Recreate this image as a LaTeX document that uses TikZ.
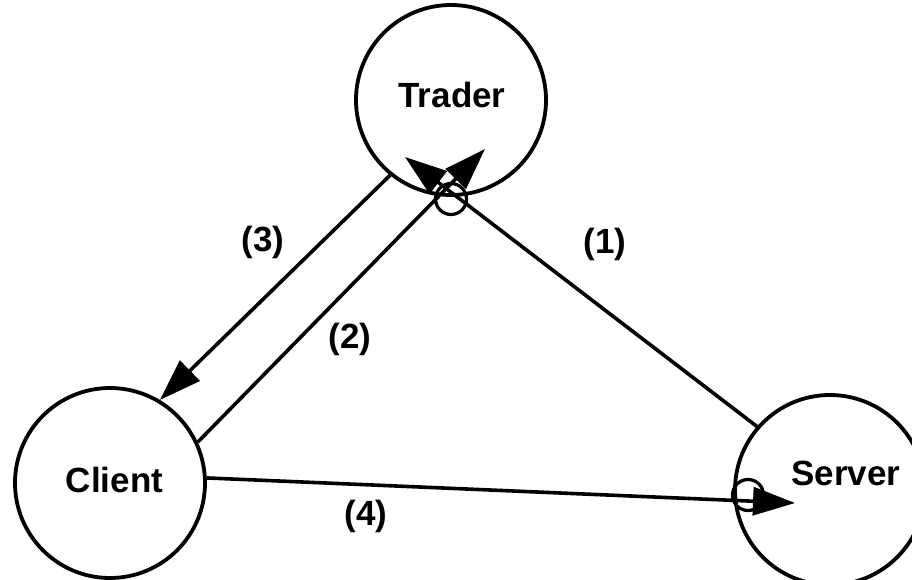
\documentclass[tikz,border=0pt]{standalone}
\usepackage{fontspec}
\setmainfont{Liberation Sans}
\usetikzlibrary{arrows.meta}
\begin{document}
\begin{tikzpicture}[x=1pt,y=-1pt,
  party/.style={circle,draw,line width=3.8pt,minimum size=190pt,inner sep=0pt},
  lbl/.style={anchor=base,font=\fontsize{35}{40}\selectfont\bfseries,inner sep=0pt},
  conn/.style={line width=3.6pt},
  tip/.style={-{Triangle[length=42pt,width=28pt]}},
  ring/.style={circle,draw,line width=3.2pt,minimum size=31pt,inner sep=0pt}]
\useasboundingbox (0,0) rectangle (912,580);
\node[party] (trader) at (451,100) {};
\node[party] (client) at (110,483) {};
\node[party] (server) at (830,490) {};
\node[lbl] (tradertext) at (452,108) {Trader};
\node[lbl] (clienttext) at (114.5,492) {Client};
\node[lbl] (servertext) at (846,485) {Server};
\coordinate (t1) at (405,157);
\coordinate (t2) at (485,149);
\coordinate (t4) at (795,503);
\draw[conn,tip] (server.139) -- (t1);
\draw[conn,tip] (client.25) -- (t2);
\draw[conn,tip] (trader.231) -- (client.59);
\draw[conn,tip] (client.3) -- (t4);
\node[ring] (ringtrader) at (451,199) {};
\node[ring] (ringserver) at (748,495) {};
\node[lbl] (l1) at (605,253) {(1)};
\node[lbl] (l2) at (350,348) {(2)};
\node[lbl] (l3) at (263,251) {(3)};
\node[lbl] (l4) at (366,525) {(4)};
\end{tikzpicture}
\end{document}
